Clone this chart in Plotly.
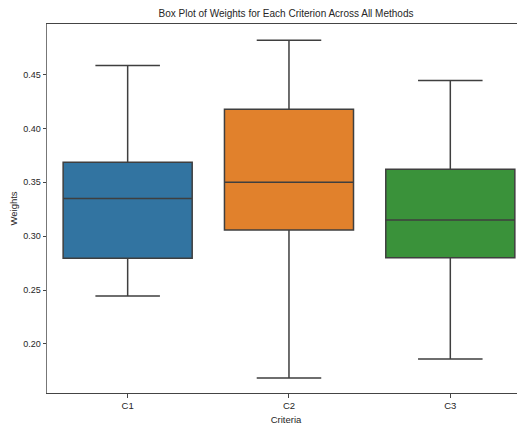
import plotly.graph_objects as go

categories = ["C1", "C2", "C3"]
lower_whisker = [0.2444, 0.1683, 0.1860]
q1_values = [0.2795, 0.3056, 0.2800]
medians = [0.3350, 0.3500, 0.3150]
q3_values = [0.3686, 0.4177, 0.3621]
upper_whisker = [0.4584, 0.4817, 0.4444]
colors = ["#3274a1", "#e1812c", "#3a923a"]
y_ticks = [0.20, 0.25, 0.30, 0.35, 0.40, 0.45]

FONT = "Liberation Sans, Arial, sans-serif"
LINE = "#3f3f3f"
TEXT = "#262626"

fig = go.Figure()
for i, cat in enumerate(categories):
    fig.add_trace(go.Box(
        x=[cat],
        q1=[q1_values[i]],
        median=[medians[i]],
        q3=[q3_values[i]],
        lowerfence=[lower_whisker[i]],
        upperfence=[upper_whisker[i]],
        fillcolor=colors[i],
        line=dict(color=LINE, width=1.5),
        width=0.8,
        whiskerwidth=0.5,
        boxpoints=False,
        showlegend=False,
        hoverinfo="skip",
    ))

# The page body has an 8px margin, so the figure is sized to fill the rest.
W, H = 517, 420
fig.update_layout(
    width=W,
    height=H,
    margin=dict(l=39, r=0, t=16, b=35),
    paper_bgcolor="white",
    plot_bgcolor="white",
    boxmode="overlay",
    font=dict(family=FONT, size=9, color=TEXT),
    title=dict(
        text="Box Plot of Weights for Each Criterion Across All Methods",
        font=dict(family=FONT, size=10, color=TEXT),
        x=0.5, xref="paper", xanchor="center",
        y=1 - 5.5 / H, yref="container", yanchor="middle",
    ),
    xaxis=dict(
        type="category",
        categoryorder="array",
        categoryarray=categories,
        range=[-0.5, 2.463],
        showgrid=False,
        zeroline=False,
        showline=True,
        linecolor="#444444",
        linewidth=1,
        mirror=True,
        ticks="outside",
        ticklen=3.5,
        tickwidth=1,
        tickcolor="#444444",
        tickfont=dict(family=FONT, size=9.5, color=TEXT),
        title=dict(text="Criteria", font=dict(family=FONT, size=9.5, color=TEXT), standoff=6),
    ),
    yaxis=dict(
        range=[0.1545, 0.4968],
        tickvals=y_ticks,
        ticktext=[f"{v:.2f}" for v in y_ticks],
        showgrid=False,
        zeroline=False,
        showline=True,
        linecolor="#777777",
        linewidth=1,
        mirror=False,
        ticks="outside",
        ticklen=3.5,
        tickwidth=1,
        tickcolor="#444444",
        tickfont=dict(family=FONT, size=9, color=TEXT),
        title=dict(text="Weights", font=dict(family=FONT, size=9.5, color=TEXT), standoff=7),
    ),
)

fig.write_html("out.html")
